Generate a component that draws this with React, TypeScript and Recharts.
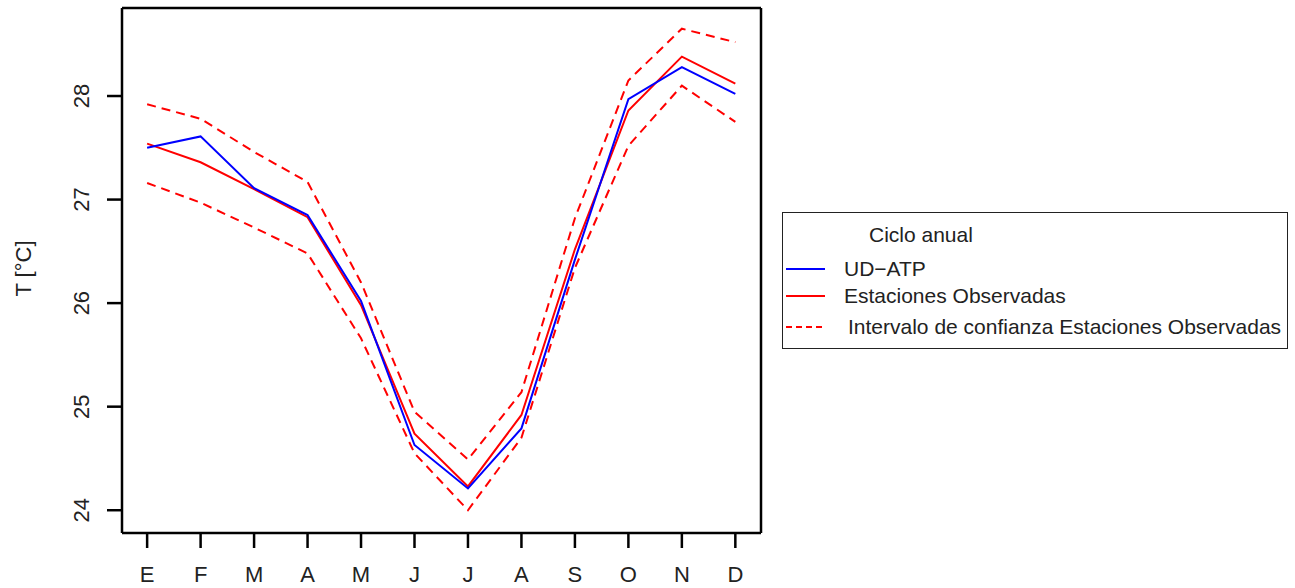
import { LineChart, Line, XAxis, YAxis } from "recharts";

const months = ["E", "F", "M", "A", "M", "J", "J", "A", "S", "O", "N", "D"];
const udAtp = [27.5, 27.61, 27.11, 26.85, 26.02, 24.63, 24.21, 24.79, 26.42, 27.97, 28.28, 28.02];
const observed = [27.54, 27.36, 27.1, 26.83, 25.98, 24.74, 24.23, 24.92, 26.52, 27.86, 28.38, 28.12];
const upperCI = [27.92, 27.78, 27.46, 27.17, 26.2, 24.95, 24.49, 25.14, 26.82, 28.15, 28.65, 28.52];
const lowerCI = [27.16, 26.97, 26.73, 26.48, 25.66, 24.55, 24.0, 24.7, 26.34, 27.52, 28.1, 27.75];
const yTicks = [24, 25, 26, 27, 28];

const data = months.map((m, i) => ({
  idx: i + 1,
  label: m,
  ud: udAtp[i],
  obs: observed[i],
  hi: upperCI[i],
  lo: lowerCI[i],
}));

const FONT = "'Liberation Sans', Arial, Helvetica, sans-serif";

function XTick({ x, y, payload }: any) {
  return (
    <text x={x} y={y + 34} textAnchor="middle" fontSize={22} fontFamily={FONT} fill="#222">
      {months[payload.value - 1]}
    </text>
  );
}

function YTick({ x, y, payload }: any) {
  const cx = x - 18;
  return (
    <text
      x={cx}
      y={y}
      transform={`rotate(-90, ${cx}, ${y})`}
      textAnchor="middle"
      fontSize={22}
      fontFamily={FONT}
      fill="#222"
    >
      {payload.value}
    </text>
  );
}

function YTitle({ viewBox }: any) {
  const cx = 31;
  const cy = viewBox.y + viewBox.height / 2 - 2;
  return (
    <text
      x={cx}
      y={cy}
      transform={`rotate(-90, ${cx}, ${cy})`}
      textAnchor="middle"
      fontSize={22}
      fontFamily={FONT}
      fill="#222"
    >
      T [°C]
    </text>
  );
}

function LegendBox() {
  const row = (color: string, dash: string | undefined, text: string, top: number, textLeft: number) => (
    <div style={{ position: "absolute", left: 0, top, height: 28, width: "100%" }}>
      <svg width={50} height={28} style={{ position: "absolute", left: 0, top: 0 }}>
        <line x1={3} x2={42} y1={14} y2={14} stroke={color} strokeWidth={2} strokeDasharray={dash} />
      </svg>
      <span style={{ position: "absolute", left: textLeft, top: 1, lineHeight: "26px", whiteSpace: "nowrap" }}>{text}</span>
    </div>
  );
  return (
    <div
      style={{
        position: "absolute",
        left: 782,
        top: 212,
        width: 504,
        height: 135,
        border: "1.5px solid #222",
        background: "#fff",
        fontFamily: FONT,
        fontSize: 21,
        color: "#222",
      }}
    >
      <span style={{ position: "absolute", left: 86, top: 9, lineHeight: "26px" }}>Ciclo anual</span>
      {row("#0000ff", undefined, "UD\u2212ATP", 42, 61)}
      {row("#ff0000", undefined, "Estaciones Observadas", 69, 61)}
      {row("#ff0000", "6 4", "Intervalo de confianza Estaciones Observadas", 100, 65)}
    </div>
  );
}

export default function App() {
  return (
    <div style={{ position: "absolute", left: 0, top: 0, width: 1295, height: 588, background: "#fff" }}>
      <LineChart width={1295} height={588} data={data} margin={{ top: 7, right: 533, bottom: 0, left: 0 }}>
        <XAxis
          dataKey="idx"
          type="number"
          domain={[0.53, 12.48]}
          ticks={data.map((d) => d.idx)}
          allowDataOverflow
          height={55}
          tickSize={15}
          tickMargin={0}
          tick={<XTick />}
          stroke="#000"
          strokeWidth={2.5}
          tickLine={{ stroke: "#000", strokeWidth: 2.5 }}
        />
        <XAxis
          xAxisId="top"
          orientation="top"
          dataKey="idx"
          type="number"
          domain={[0.53, 12.48]}
          allowDataOverflow
          height={1}
          tick={false}
          tickLine={false}
          axisLine={{ stroke: "#000", strokeWidth: 2.5 }}
        />
        <YAxis
          type="number"
          domain={[23.78, 28.85]}
          ticks={yTicks}
          allowDataOverflow
          width={122}
          tickSize={15}
          tickMargin={0}
          tick={<YTick />}
          stroke="#000"
          strokeWidth={2.5}
          tickLine={{ stroke: "#000", strokeWidth: 2.5 }}
          label={{ content: <YTitle /> }}
        />
        <YAxis
          yAxisId="right"
          orientation="right"
          type="number"
          domain={[23.78, 28.85]}
          allowDataOverflow
          width={1}
          tick={false}
          tickLine={false}
          axisLine={{ stroke: "#000", strokeWidth: 2.5 }}
        />
        <Line dataKey="hi" stroke="#ff0000" strokeWidth={2} strokeDasharray="9 6" dot={false} isAnimationActive={false} />
        <Line dataKey="lo" stroke="#ff0000" strokeWidth={2} strokeDasharray="9 6" dot={false} isAnimationActive={false} />
        <Line dataKey="obs" stroke="#ff0000" strokeWidth={2} dot={false} isAnimationActive={false} />
        <Line dataKey="ud" stroke="#0000ff" strokeWidth={2} dot={false} isAnimationActive={false} />
      </LineChart>
      <LegendBox />
    </div>
  );
}
